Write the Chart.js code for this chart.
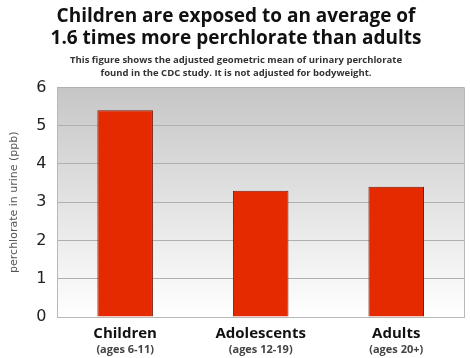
<!DOCTYPE html>
<html>
<head>
<meta charset="utf-8">
<script src="https://cdn.jsdelivr.net/npm/chart.js@4"></script>
<style>
html,body{margin:0;padding:0;background:#fff;}
#wrap{width:470px;height:358px;}
</style>
</head>
<body>
<div id="wrap"><canvas id="c" width="470" height="358"></canvas></div>
<script>
const categories = ["Children", "Adolescents", "Adults"];
const ageLabels = ["(ages 6-11)", "(ages 12-19)", "(ages 20+)"];
const values = [5.4, 3.3, 3.4];
const yTicks = [0, 1, 2, 3, 4, 5, 6];
const titleLines = ["Children are exposed to an average of", "1.6 times more perchlorate than adults"];
const subtitleLines = ["This figure shows the adjusted geometric mean of urinary perchlorate", "found in the CDC study. It is not adjusted for bodyweight."];
const yTitle = "perchlorate in urine (ppb)";

const bgPlugin = {
  id: 'bgGrad',
  beforeDraw(chart) {
    const {ctx, chartArea: a} = chart;
    const g = ctx.createLinearGradient(0, a.top, 0, a.bottom);
    g.addColorStop(0, '#c6c6c6');
    g.addColorStop(1, '#ffffff');
    ctx.save();
    ctx.fillStyle = g;
    ctx.fillRect(a.left, a.top, a.right - a.left, a.bottom - a.top);
    ctx.restore();
  },
  afterDatasetsDraw(chart) {
    const {ctx, chartArea: a} = chart;
    ctx.save();
    ctx.strokeStyle = '#b8b8b8';
    ctx.lineWidth = 1;
    ctx.beginPath();
    ctx.moveTo(a.right + 0.5, a.top);
    ctx.lineTo(a.right + 0.5, a.bottom);
    ctx.stroke();
    ctx.restore();
  },
  afterDraw(chart) {
    const {ctx, chartArea: a} = chart;
    const xs = chart.scales.x;
    ctx.save();
    ctx.fillStyle = '#444';
    ctx.font = 'bold 11px "Open Sans"';
    ctx.textAlign = 'center';
    ctx.textBaseline = 'middle';
    ageLabels.forEach((t, i) => {
      ctx.fillText(t, xs.getPixelForValue(i), a.bottom + 33);
    });
    ctx.restore();
  }
};

new Chart(document.getElementById('c'), {
  type: 'bar',
  data: {
    labels: categories,
    datasets: [{
      data: values,
      backgroundColor: '#e62a00',
      borderColor: '#7a1a08',
      borderWidth: 1,
      categoryPercentage: 1,
      barPercentage: 0.41
    }]
  },
  options: {
    responsive: false,
    animation: false,
    layout: {padding: {left: 8, right: 6, top: 0, bottom: 8}},
    plugins: {
      legend: {display: false},
      tooltip: {enabled: false},
      title: {
        display: true,
        text: titleLines,
        color: '#111',
        font: {family: '"Open Sans"', size: 19, weight: 'bold', lineHeight: 1.15},
        padding: {top: 6, bottom: 4}
      },
      subtitle: {
        display: true,
        text: subtitleLines,
        color: '#333',
        font: {family: '"Open Sans"', size: 9.5, weight: 'bold', lineHeight: 1.35},
        padding: {top: 0, bottom: 8}
      }
    },
    scales: {
      x: {
        type: 'category',
        position: 'bottom',
        grid: {display: false, drawTicks: false},
        border: {display: true, color: '#b8b8b8'},
        ticks: {color: '#111', font: {family: '"Open Sans"', size: 15, weight: 'bold', lineHeight: 1.0}, padding: 9}
      },
      y: {
        min: 0,
        max: 6,
        afterBuildTicks(axis) { axis.ticks = yTicks.map(v => ({value: v})); },
        grid: {color: '#b0b0b0', drawTicks: false},
        border: {display: true, color: '#b8b8b8'},
        ticks: {color: '#222', font: {family: '"DejaVu Sans"', size: 16}, padding: 11},
        title: {display: true, text: yTitle, color: '#555', font: {family: '"DejaVu Sans"', size: 11}, padding: {top: 0, bottom: 4}}
      }
    }
  },
  plugins: [bgPlugin]
});
</script>
</body>
</html>
